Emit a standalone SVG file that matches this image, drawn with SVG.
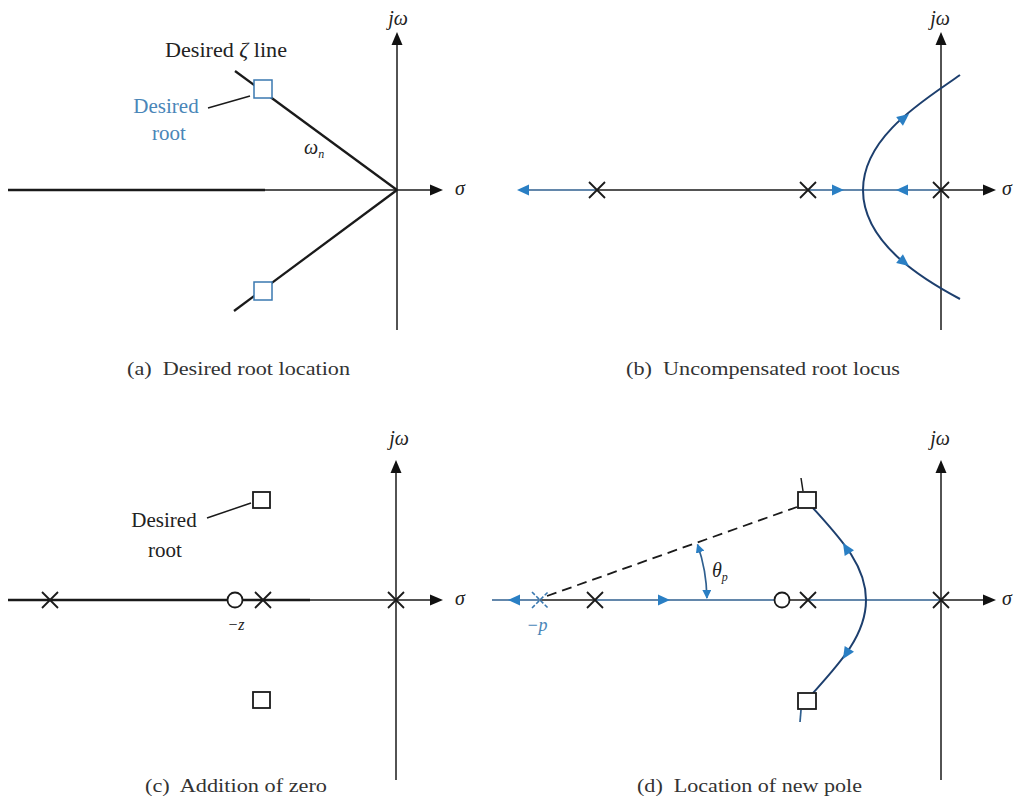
<svg xmlns="http://www.w3.org/2000/svg" width="1020" height="800" viewBox="0 0 1020 800">
<style>
  text { font-family: "Liberation Serif", "Times New Roman", serif; fill: #222; }
  .it { font-style: italic; }
  .cap { font-size: 18px; fill: #333; }
  .lbl { font-size: 21px; }
  .sym { font-size: 20px; font-style: italic; }
  .blue { fill: #4a86b8; }
  .axis { stroke: #1a1a1a; stroke-width: 1.5; fill: none; }
  .thick { stroke: #1a1a1a; stroke-width: 2.3; fill: none; }
  .loc { stroke: #2f5f8f; stroke-width: 1.7; fill: none; }
  .curve { stroke: #1d3f6e; stroke-width: 2; fill: none; }
  .pole { stroke: #1a1a1a; stroke-width: 1.8; fill: none; }
  .sqb { stroke: #3a78b0; stroke-width: 1.5; fill: #fff; }
  .sqk { stroke: #1a1a1a; stroke-width: 1.8; fill: #fff; }
  .zero { stroke: #1a1a1a; stroke-width: 1.8; fill: #fff; }
  .lead { stroke: #1a1a1a; stroke-width: 1.5; }
</style>
<defs>
  <path id="axhead" d="M0,0 L-13,-5.5 L-13,5.5 Z" fill="#111"/>
  <path id="lochead" d="M0,0 L-12,-5.5 L-12,5.5 Z" fill="#2a7fc4"/>
  <path id="x" d="M-8,-8 L8,8 M-8,8 L8,-8"/>
  <marker id="arcArrow" viewBox="0 0 10 10" refX="9" refY="5" markerWidth="9" markerHeight="9" markerUnits="userSpaceOnUse" orient="auto-start-reverse">
    <path d="M0,0 L10,5 L0,10 Z" fill="#2a7fc4"/>
  </marker>
</defs>
<rect width="1020" height="800" fill="#fff"/>

<!-- ===== Panel (a) ===== -->
<g id="panel-a-connectors">
  <line class="thick" x1="8" y1="190" x2="265" y2="190"/>
  <line class="axis" x1="265" y1="190" x2="432" y2="190"/>
  <use href="#axhead" transform="translate(443,190)"/>
  <line class="axis" x1="397" y1="330" x2="397" y2="44"/>
  <use href="#axhead" transform="translate(397,32) rotate(-90)"/>
  <line class="thick" x1="235" y1="71" x2="397" y2="190"/>
  <line class="thick" x1="397" y1="190" x2="234" y2="311"/>
  <line class="lead" x1="208" y1="108" x2="250" y2="96"/>
</g>
<g id="a-root-upper"><rect class="sqb" x="254" y="80" width="18" height="18"/></g>
<g id="a-root-lower"><rect class="sqb" x="254" y="282" width="18" height="18"/></g>
<g id="a-labels">
  <text class="lbl" x="165" y="57" textLength="122" lengthAdjust="spacingAndGlyphs">Desired <tspan class="it">ζ</tspan> line</text>
  <text class="lbl blue" x="166" y="113" text-anchor="middle">Desired</text>
  <text class="lbl blue" x="169" y="140" text-anchor="middle">root</text>
  <text class="sym" x="304" y="154" font-size="19">ω<tspan font-size="12" dy="4">n</tspan></text>
  <text class="sym" x="398" y="25" text-anchor="middle">jω</text>
  <text class="sym" x="455" y="195">σ</text>
  <text class="cap" x="127" y="375" textLength="223" lengthAdjust="spacingAndGlyphs">(a)&#160; Desired root location</text>
</g>

<!-- ===== Panel (b) ===== -->
<g id="panel-b-connectors">
  <line class="loc" x1="520" y1="190" x2="597" y2="190"/>
  <line class="axis" x1="597" y1="190" x2="808" y2="190"/>
  <line class="loc" x1="808" y1="190" x2="941" y2="190"/>
  <line class="axis" x1="941" y1="190" x2="984" y2="190"/>
  <use href="#axhead" transform="translate(996,190)"/>
  <line class="axis" x1="941" y1="330" x2="941" y2="44"/>
  <use href="#axhead" transform="translate(941,32) rotate(-90)"/>
  <path class="curve" d="M960,75 C928,98 863,135 863,190 C863,245 928,282 960,299"/>
  <use href="#lochead" transform="translate(517,190) rotate(180)"/>
  <use href="#lochead" transform="translate(844,190)"/>
  <use href="#lochead" transform="translate(896,190) rotate(180)"/>
  <use href="#lochead" transform="translate(909,114) rotate(-38)"/>
  <use href="#lochead" transform="translate(909,266) rotate(38)"/>
</g>
<g id="b-pole-1"><use href="#x" class="pole" x="597" y="190"/></g>
<g id="b-pole-2"><use href="#x" class="pole" x="808" y="190"/></g>
<g id="b-pole-3"><use href="#x" class="pole" x="941" y="190"/></g>
<g id="b-labels">
  <text class="sym" x="940" y="25" text-anchor="middle">jω</text>
  <text class="sym" x="1002" y="195">σ</text>
  <text class="cap" x="626" y="375" textLength="274" lengthAdjust="spacingAndGlyphs">(b)&#160; Uncompensated root locus</text>
</g>

<!-- ===== Panel (c) ===== -->
<g id="panel-c-connectors">
  <line class="thick" x1="8" y1="600" x2="310" y2="600"/>
  <line class="axis" x1="310" y1="600" x2="432" y2="600"/>
  <use href="#axhead" transform="translate(443,600)"/>
  <line class="axis" x1="396" y1="780" x2="396" y2="472"/>
  <use href="#axhead" transform="translate(396,460) rotate(-90)"/>
  <line class="lead" x1="207" y1="518" x2="251" y2="503"/>
</g>
<g id="c-pole-1"><use href="#x" class="pole" x="50" y="600"/></g>
<g id="c-zero"><circle class="zero" cx="235" cy="600" r="7.5"/></g>
<g id="c-pole-2"><use href="#x" class="pole" x="263" y="600"/></g>
<g id="c-pole-3"><use href="#x" class="pole" x="396" y="600"/></g>
<g id="c-root-upper"><rect class="sqk" x="253" y="492" width="17" height="16"/></g>
<g id="c-root-lower"><rect class="sqk" x="253" y="692" width="17" height="16"/></g>
<g id="c-labels">
  <text class="lbl" x="164" y="527" text-anchor="middle">Desired</text>
  <text class="lbl" x="165" y="557" text-anchor="middle">root</text>
  <text class="it" x="236" y="630" font-size="16" text-anchor="middle">−z</text>
  <text class="sym" x="399" y="445" text-anchor="middle">jω</text>
  <text class="sym" x="455" y="605">σ</text>
  <text class="cap" x="145" y="792" textLength="182" lengthAdjust="spacingAndGlyphs">(c)&#160; Addition of zero</text>
</g>

<!-- ===== Panel (d) ===== -->
<g id="panel-d-connectors">
  <line class="loc" x1="492" y1="600" x2="540" y2="600"/>
  <line class="axis" x1="540" y1="600" x2="595" y2="600"/>
  <line class="loc" x1="595" y1="600" x2="775" y2="600"/>
  <line class="axis" x1="790" y1="600" x2="808" y2="600"/>
  <line class="loc" x1="808" y1="600" x2="941" y2="600"/>
  <line class="axis" x1="941" y1="600" x2="984" y2="600"/>
  <use href="#axhead" transform="translate(996,600)"/>
  <line class="axis" x1="941" y1="780" x2="941" y2="472"/>
  <use href="#axhead" transform="translate(941,460) rotate(-90)"/>
  <line x1="547" y1="596" x2="797" y2="507" stroke="#1a1a1a" stroke-width="1.8" stroke-dasharray="10 6"/>
  <path d="M697.5,544.5 A167,167 0 0 1 706.9,598" fill="none" stroke="#2f5f8f" stroke-width="1.7" marker-start="url(#arcArrow)" marker-end="url(#arcArrow)"/>
  <path class="curve" d="M813,508 C840,538 866,565 866,600 C866,635 840,663 813,693"/>
  <line class="lead" x1="801" y1="478" x2="803" y2="491"/>
  <line x1="800" y1="722" x2="801" y2="710" stroke="#2f5f8f" stroke-width="1.7"/>
  <use href="#lochead" transform="translate(508,600) rotate(180)"/>
  <use href="#lochead" transform="translate(670,600)"/>
  <use href="#lochead" transform="translate(843,543) rotate(-122)"/>
  <use href="#lochead" transform="translate(843,659) rotate(122)"/>
</g>
<g id="d-new-pole"><use href="#x" x="540" y="600" stroke="#3a78b0" stroke-width="1.6" stroke-dasharray="4 2" fill="none"/></g>
<g id="d-pole-1"><use href="#x" class="pole" x="595" y="600"/></g>
<g id="d-zero"><circle class="zero" cx="782" cy="600" r="7.5"/></g>
<g id="d-pole-2"><use href="#x" class="pole" x="808" y="600"/></g>
<g id="d-pole-3"><use href="#x" class="pole" x="941" y="600"/></g>
<g id="d-root-upper"><rect class="sqk" x="798" y="492" width="18" height="16"/></g>
<g id="d-root-lower"><rect class="sqk" x="798" y="693" width="18" height="16"/></g>
<g id="d-labels">
  <text class="sym" x="712" y="577" font-size="19">θ<tspan font-size="12" dy="4">p</tspan></text>
  <text class="it blue" x="537" y="631" font-size="18" text-anchor="middle">−p</text>
  <text class="sym" x="940" y="445" text-anchor="middle">jω</text>
  <text class="sym" x="1002" y="605">σ</text>
  <text class="cap" x="637" y="792" textLength="225" lengthAdjust="spacingAndGlyphs">(d)&#160; Location of new pole</text>
</g>
</svg>
